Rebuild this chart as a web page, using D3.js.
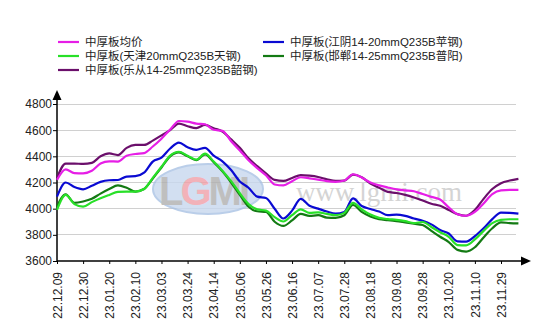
<!DOCTYPE html>
<html><head><meta charset="utf-8">
<script src="https://cdn.jsdelivr.net/npm/d3@7"></script>
<style>body{margin:0;background:#fff}svg{display:block}</style>
</head><body>
<script>
const tickLabels=["22.12.09","22.12.30","23.01.20","23.02.10","23.03.03","23.03.24","23.04.14","23.05.06","23.05.26","23.06.16","23.07.07","23.07.28","23.08.18","23.09.08","23.09.28","23.10.20","23.11.10","23.11.29"];
const yTicks=[3600,3800,4000,4200,4400,4600,4800];
const seriesNames=["中厚板均价","中厚板(江阴14-20mmQ235B苹钢)","中厚板(天津20mmQ235B天钢)","中厚板(邯郸14-25mmQ235B普阳)","中厚板(乐从14-25mmQ235B韶钢)"];
const avgPrice=[4220,4300,4272,4270,4290,4345,4362,4360,4405,4418,4425,4475,4535,4605,4670,4665,4650,4645,4603,4595,4515,4445,4370,4310,4255,4185,4178,4210,4240,4232,4222,4210,4205,4215,4263,4238,4200,4178,4162,4148,4140,4133,4112,4090,4070,4010,3958,3946,3975,4040,4112,4140,4143,4143];
const jiangyin=[4092,4200,4165,4148,4175,4205,4217,4219,4245,4248,4275,4360,4390,4460,4505,4470,4450,4465,4405,4362,4295,4208,4160,4092,4082,4000,3925,3985,4075,4022,4000,3978,3962,3975,4078,4020,3998,3978,3950,3955,3945,3925,3908,3880,3837,3810,3750,3748,3790,3850,3920,3970,3968,3962];
const tianjin=[3990,4105,4035,4015,4050,4080,4105,4128,4130,4130,4150,4235,4320,4405,4435,4405,4375,4420,4360,4290,4210,4118,4035,3995,3985,3935,3902,3950,3995,3968,3972,3960,3950,3968,4045,3995,3955,3930,3920,3915,3905,3890,3898,3860,3820,3785,3722,3720,3765,3830,3890,3915,3919,3919];
const handan=[4015,4110,4045,4055,4075,4115,4150,4178,4160,4130,4150,4230,4315,4400,4430,4400,4370,4415,4355,4285,4200,4105,4015,3980,3975,3900,3868,3910,3960,3945,3950,3932,3930,3950,4028,3975,3940,3920,3913,3905,3895,3885,3875,3830,3785,3745,3685,3672,3705,3780,3850,3895,3890,3888];
const lecong=[4235,4345,4345,4342,4350,4400,4422,4410,4465,4487,4487,4520,4560,4600,4650,4630,4615,4640,4615,4590,4530,4465,4385,4325,4270,4220,4212,4235,4257,4252,4242,4225,4212,4215,4260,4240,4192,4160,4128,4120,4105,4085,4062,4038,4022,3990,3958,3946,3990,4075,4150,4195,4215,4228];
const colors=["#e61ee6","#0a0ad2","#28e028","#137a13","#6b0f6b"];

const W=538,H=336;
const svg=d3.select("body").append("svg").attr("width",W).attr("height",H);
const x=d3.scaleLinear().domain([0,51]).range([57,501]);
const y=d3.scaleLinear().domain([3600,4800]).range([261,104]);
const font="Arial, 'Liberation Sans', sans-serif";

// grid
svg.append("g").selectAll("line").data(yTicks.slice(1)).join("line")
 .attr("x1",57).attr("x2",516).attr("y1",d=>y(d)).attr("y2",d=>y(d))
 .attr("stroke","#d0d0d0").attr("stroke-width",1).attr("shape-rendering","crispEdges");

// watermark
const wm=svg.append("g").attr("opacity",0.8);
wm.append("ellipse").attr("cx",208).attr("cy",189).attr("rx",55).attr("ry",25).attr("fill","#c8d8ee").attr("stroke","#a9c2e4").attr("stroke-width",2);
const lg=wm.append("text").attr("x",203).attr("y",205).attr("text-anchor","middle").attr("font-family",font).attr("font-weight","bold").attr("font-size",40).attr("letter-spacing",-3);
lg.append("tspan").attr("fill","#b0b0b0").text("L");
lg.append("tspan").attr("fill","#f0a0a8").text("G");
lg.append("tspan").attr("fill","#b0b0b0").text("MI");
svg.append("text").attr("x",379).attr("y",201).attr("text-anchor","middle").attr("font-family","'Liberation Serif', 'DejaVu Serif', serif").attr("font-size",27).attr("fill","#d4d4d4").text("www.lgmi.com");

// axes
const yAxis=d3.axisLeft(y).tickValues(yTicks).tickSize(4).tickFormat(d3.format("d"));
const gy=svg.append("g").attr("transform","translate(57,0)").call(yAxis);
gy.select(".domain").remove();
gy.selectAll("text").attr("font-family",font).attr("font-size",12).attr("fill","#222").attr("dx",2);
gy.selectAll("line").attr("stroke","#000");
svg.append("line").attr("x1",57).attr("x2",57).attr("y1",100).attr("y2",262).attr("stroke","#000").attr("stroke-width",1.5);
svg.append("path").attr("d","M57,90L52.5,100L61.5,100Z").attr("fill","#000");

const xAxis=d3.axisBottom(x).tickValues(d3.range(0,52,3)).tickSize(3).tickFormat((d,i)=>tickLabels[i]);
const gx=svg.append("g").attr("transform","translate(0,261)").call(xAxis);
gx.select(".domain").remove();
gx.selectAll("line").attr("stroke","#000");
gx.selectAll("text").attr("font-family",font).attr("font-size",12).attr("fill","#222")
 .attr("transform","rotate(-90)").attr("text-anchor","end").attr("x",-11).attr("y",0).attr("dy","0.35em");
svg.append("line").attr("x1",57).attr("x2",522).attr("y1",261).attr("y2",261).attr("stroke","#000").attr("stroke-width",1.5);
svg.append("path").attr("d","M531,261L521,256.5L521,265.5Z").attr("fill","#000");

// lines
const allSeries=[avgPrice,jiangyin,tianjin,handan,lecong];
const line=d3.line().x((d,i)=>x(i)).y(d=>y(d)).curve(d3.curveMonotoneX);
const order=[4,0,1,3,2];
order.forEach(k=>{
  svg.append("path").attr("d",line(allSeries[k])).attr("fill","none").attr("stroke",colors[k]).attr("stroke-width",2.2).attr("stroke-linejoin","round");
});

// legend
const leg=[{k:0,x:58,y:42},{k:2,x:58,y:56},{k:4,x:58,y:70},{k:1,x:263,y:42},{k:3,x:263,y:56}];
leg.forEach(l=>{
  svg.append("line").attr("x1",l.x).attr("x2",l.x+21).attr("y1",l.y).attr("y2",l.y).attr("stroke",colors[l.k]).attr("stroke-width",2.2);
  svg.append("text").attr("x",l.x+27).attr("y",l.y).attr("dy","0.36em").attr("font-family","Arial, 'Noto Sans CJK SC', sans-serif").attr("font-size",11.5).attr("fill","#222").text(seriesNames[l.k]);
});
</script>
</body></html>
